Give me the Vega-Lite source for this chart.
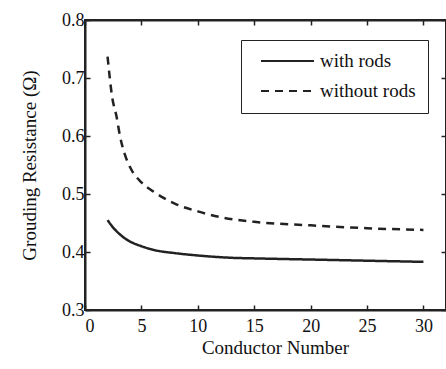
{
  "$schema": "https://vega.github.io/schema/vega-lite/v6.json",
  "autosize": "none",
  "width": 361,
  "height": 290,
  "padding": {"left": 85, "top": 20, "right": 0, "bottom": 59},
  "background": "white",
  "config": {
    "font": "Liberation Serif",
    "view": {"stroke": "#222", "strokeWidth": 2},
    "axis": {
      "labelFont": "Liberation Serif",
      "titleFont": "Liberation Serif",
      "labelFontSize": 18,
      "titleFontSize": 19,
      "titleFontWeight": "normal",
      "labelColor": "#111",
      "titleColor": "#111",
      "domainColor": "#222",
      "domainWidth": 2,
      "tickColor": "#222",
      "tickWidth": 1.5,
      "tickSize": -5,
      "grid": false
    }
  },
  "data": {
    "values": [
      {"n": 2, "r": 0.455, "s": "with rods"},
      {"n": 2.5, "r": 0.442, "s": "with rods"},
      {"n": 3, "r": 0.432, "s": "with rods"},
      {"n": 3.5, "r": 0.424, "s": "with rods"},
      {"n": 4, "r": 0.418, "s": "with rods"},
      {"n": 5, "r": 0.41, "s": "with rods"},
      {"n": 6, "r": 0.404, "s": "with rods"},
      {"n": 8, "r": 0.398, "s": "with rods"},
      {"n": 10, "r": 0.394, "s": "with rods"},
      {"n": 13, "r": 0.39, "s": "with rods"},
      {"n": 15, "r": 0.389, "s": "with rods"},
      {"n": 20, "r": 0.387, "s": "with rods"},
      {"n": 25, "r": 0.385, "s": "with rods"},
      {"n": 30, "r": 0.383, "s": "with rods"},
      {"n": 2, "r": 0.737, "s": "without rods"},
      {"n": 2.4, "r": 0.668, "s": "without rods"},
      {"n": 2.8, "r": 0.633, "s": "without rods"},
      {"n": 3.1, "r": 0.6, "s": "without rods"},
      {"n": 3.5, "r": 0.57, "s": "without rods"},
      {"n": 4, "r": 0.546, "s": "without rods"},
      {"n": 5, "r": 0.52, "s": "without rods"},
      {"n": 6, "r": 0.505, "s": "without rods"},
      {"n": 7, "r": 0.493, "s": "without rods"},
      {"n": 8, "r": 0.483, "s": "without rods"},
      {"n": 10, "r": 0.47, "s": "without rods"},
      {"n": 12, "r": 0.46, "s": "without rods"},
      {"n": 15, "r": 0.452, "s": "without rods"},
      {"n": 20, "r": 0.446, "s": "without rods"},
      {"n": 25, "r": 0.441, "s": "without rods"},
      {"n": 30, "r": 0.438, "s": "without rods"}
    ]
  },
  "layer": [
    {
      "mark": {"type": "line", "interpolate": "monotone", "strokeWidth": 2.5, "color": "#222"},
      "encoding": {
        "x": {
          "field": "n",
          "type": "quantitative",
          "scale": {"domain": [0, 32], "nice": false, "zero": false},
          "axis": {"values": [0, 5, 10, 15, 20, 25, 30], "title": "Conductor Number", "labelPadding": 12, "titlePadding": 3, "titleX": 190}
        },
        "y": {
          "field": "r",
          "type": "quantitative",
          "scale": {"domain": [0.3, 0.8], "nice": false, "zero": false},
          "axis": {"values": [0.3, 0.4, 0.5, 0.6, 0.7, 0.8], "format": ".1f", "title": "Grouding Resistance (Ω)", "labelPadding": 6, "titlePadding": 22}
        },
        "strokeDash": {
          "field": "s",
          "type": "nominal",
          "scale": {"domain": ["with rods", "without rods"], "range": [[1, 0], [8, 6]]},
          "legend": {
            "title": null,
            "orient": "none",
            "legendX": 156,
            "legendY": 20,
            "strokeColor": "#222",
            "fillColor": "white",
            "padding": 12,
            "symbolType": "stroke",
            "symbolSize": 2809,
            "symbolStrokeWidth": 2,
            "symbolStrokeColor": "#222",
            "symbolOffset": 7,
            "clipHeight": 18,
            "labelFont": "Liberation Serif",
            "labelFontSize": 19,
            "labelColor": "#111",
            "labelOffset": 5,
            "rowPadding": 11,
            "offset": 0
          }
        }
      }
    },
    {
      "mark": {"type": "line", "strokeOpacity": 0},
      "encoding": {
        "x": {
          "field": "n",
          "type": "quantitative",
          "scale": {"domain": [0, 32], "nice": false, "zero": false},
          "axis": {"orient": "top", "values": [0, 5, 10, 15, 20, 25, 30], "labels": false, "title": null}
        },
        "y": {
          "field": "r",
          "type": "quantitative",
          "scale": {"domain": [0.3, 0.8], "nice": false, "zero": false},
          "axis": {"orient": "right", "values": [0.3, 0.4, 0.5, 0.6, 0.7, 0.8], "labels": false, "title": null}
        }
      }
    }
  ],
  "resolve": {"axis": {"x": "independent", "y": "independent"}}
}
